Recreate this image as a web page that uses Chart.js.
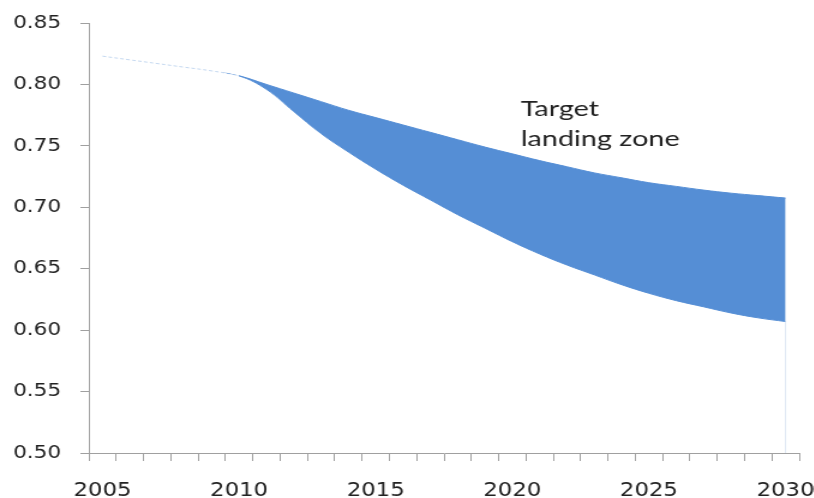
<!DOCTYPE html>
<html>
<head>
<meta charset="utf-8">
<title>Target landing zone</title>
<script src="https://cdn.jsdelivr.net/npm/chart.js@4.4.1/dist/chart.umd.min.js"></script>
<style>
    html, body { margin: 0; padding: 0; background: #fff; overflow: hidden; }
    /* chart is drawn narrow and stretched wide */
    #wrap { width: 678px; height: 498px; transform: scaleX(1.2); transform-origin: 0 0; }
</style>
</head>
<body>
<div id="wrap"><canvas id="zoneChart"></canvas></div>
<script>

var years = [2005, 2006, 2007, 2008, 2009, 2010, 2011, 2012, 2013, 2014, 2015, 2016, 2017,
             2018, 2019, 2020, 2021, 2022, 2023, 2024, 2025, 2026, 2027, 2028, 2029, 2030];

// lower and upper edge of the zone (identical up to 2010)
var lowerEdge = [0.823, 0.820, 0.817, 0.814, 0.811, 0.807, 0.796, 0.778, 0.760, 0.745, 0.731, 0.718, 0.706,
                 0.694, 0.683, 0.672, 0.662, 0.653, 0.645, 0.637, 0.630, 0.624, 0.619, 0.614, 0.610, 0.607];
var upperEdge = [0.823, 0.820, 0.817, 0.814, 0.811, 0.807, 0.800, 0.793, 0.786, 0.779, 0.773, 0.767, 0.761,
                 0.755, 0.749, 0.7435, 0.738, 0.733, 0.728, 0.724, 0.720, 0.717, 0.714, 0.7115, 0.7095, 0.7075];

var yTicks = [0.50, 0.55, 0.60, 0.65, 0.70, 0.75, 0.80, 0.85];
var zoneLabel = ["Target", "landing zone"];

var blue = "#558ed5";
var faint = "rgba(85,142,213,0.35)";
var axisGrey = "#a0a0a0";
var textColor = "#222222";

// text next to the band, plus the thin drop line at the right end
var zoneText = {
    id: "zoneText",
    afterDatasetsDraw: function (chart) {
        var ctx = chart.ctx;
        var x = chart.scales.x;
        var y = chart.scales.y;
        var lower = chart.getDatasetMeta(0).data;
        var last = lower[lower.length - 1];

        ctx.save();
        ctx.strokeStyle = "#dce6f2";
        ctx.lineWidth = 1;
        ctx.beginPath();
        ctx.moveTo(last.x, last.y);
        ctx.lineTo(last.x, y.getPixelForValue(0.5));
        ctx.stroke();

        var lx = x.getPixelForValue(15) + 7;
        ctx.translate(lx, 0);
        ctx.scale(1.09, 1);
        ctx.fillStyle = textColor;
        ctx.font = "22px Lato";
        ctx.textBaseline = "alphabetic";
        ctx.fillText(zoneLabel[0], 0, 116);
        ctx.fillText(zoneLabel[1], 0, 146);
        ctx.restore();
    }
};

var ctx = document.getElementById("zoneChart").getContext("2d");
new Chart(ctx, {
    type: "line",
    data: {
        labels: years,
        datasets: [
            {
                label: "Lower",
                data: lowerEdge,
                borderColor: blue,
                borderWidth: 1,
                pointRadius: 0,
                fill: false,
                tension: 0.4,
                segment: {
                    borderColor: function (c) { return c.p0DataIndex < 5 ? "rgba(0,0,0,0)" : blue; }
                }
            },
            {
                label: "Upper",
                data: upperEdge,
                borderColor: blue,
                backgroundColor: blue,
                borderWidth: 1,
                pointRadius: 0,
                fill: "-1",
                tension: 0.4,
                segment: {
                    borderColor: function (c) { return c.p0DataIndex < 5 ? faint : blue; },
                    borderDash: function (c) { return c.p0DataIndex < 5 ? [3, 2] : []; }
                }
            }
        ]
    },
    options: {
        responsive: true,
        maintainAspectRatio: false,
        animation: false,
        layout: { padding: { top: 23, right: 12, left: 0, bottom: 0 } },
        plugins: {
            legend: { display: false },
            tooltip: { enabled: false }
        },
        scales: {
            x: {
                type: "category",
                offset: true,
                border: { color: axisGrey, width: 1 },
                grid: { offset: true, drawOnChartArea: false, color: axisGrey, tickLength: 8 },
                ticks: {
                    autoSkip: false,
                    maxRotation: 0,
                    padding: 19,
                    color: textColor,
                    font: { family: "DejaVu Sans", size: 19 },
                    callback: function (v, i) { return years[i] % 5 === 0 ? String(years[i]) : ""; }
                },
                afterFit: function (s) { s.height = 45; s.paddingLeft = 0; s.paddingRight = 0; }
            },
            y: {
                min: yTicks[0],
                max: yTicks[yTicks.length - 1],
                border: { color: axisGrey, width: 1 },
                grid: { drawOnChartArea: false, color: axisGrey, tickLength: 7 },
                afterBuildTicks: function (s) {
                    s.ticks = yTicks.map(function (v) { return { value: v }; });
                },
                ticks: {
                    padding: 16,
                    color: textColor,
                    font: { family: "DejaVu Sans", size: 18 },
                    callback: function (v) { return v.toFixed(2); }
                },
                afterFit: function (s) { s.width = 74; s.paddingTop = 0; s.paddingBottom = 0; }
            }
        }
    },
    plugins: [zoneText]
});
</script>
</body>
</html>
